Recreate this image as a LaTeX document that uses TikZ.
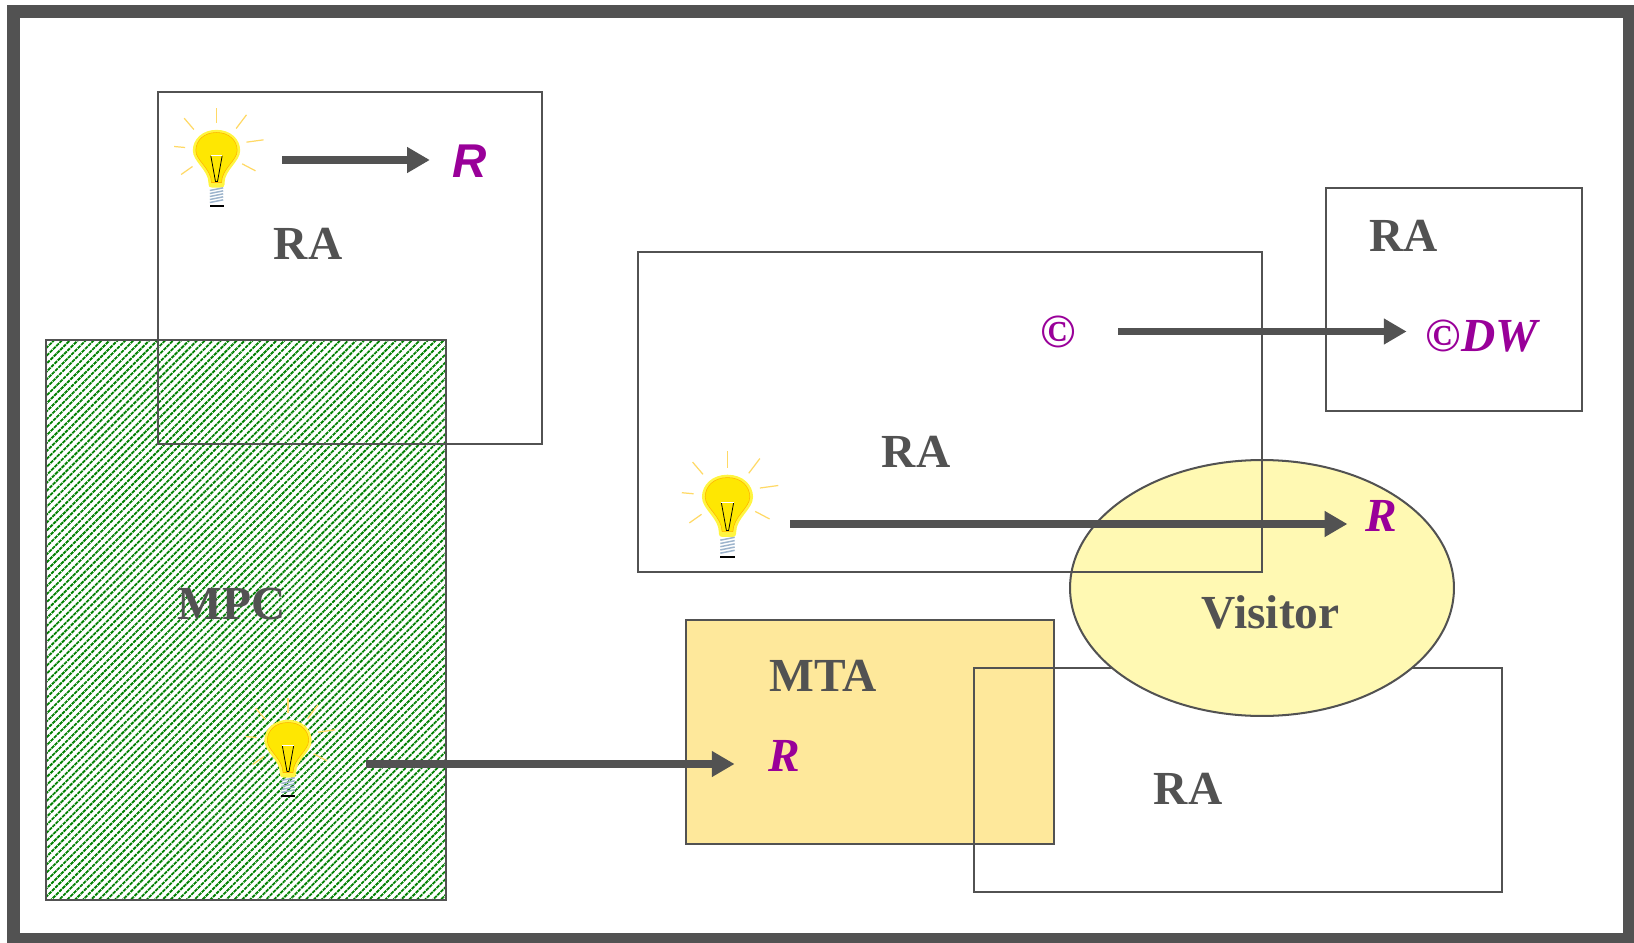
\documentclass[tikz,border=0pt]{standalone}
\usepackage{fontspec}
\setmainfont{Liberation Serif}
\newfontfamily\rsans{Liberation Sans}
\usetikzlibrary{arrows.meta,patterns.meta,shapes.geometric}
\definecolor{inkgray}{HTML}{525252}
\definecolor{markpurple}{HTML}{990099}
\definecolor{mtafill}{HTML}{FEE89B}
\definecolor{visitorfill}{HTML}{FFF9B3}
\definecolor{hatchgreen}{HTML}{008000}
\definecolor{rayyellow}{HTML}{FFD966}
\definecolor{screwblue}{HTML}{9DB4CC}
\tikzset{
    boxline/.style={draw=inkgray, line width=1.15pt, inner sep=0pt},
    agent/.style={anchor=base west, inner sep=0pt, text=inkgray, font=\fontsize{27}{27}\selectfont\bfseries},
    purplemark/.style={anchor=base west, inner sep=0pt, text=markpurple, font=\fontsize{27}{27}\selectfont\bfseries\itshape},
    flow/.style={draw=inkgray, line width=4.5pt, -{Triangle[length=13pt,width=14pt]}},
    lightbulb/.pic={
        \foreach \xa/\ya/\xb/\yb in {0/-145/0/-100, 90/-125/59/-84, 141/-50/90/-43, 117/43/77/22, -72/30/-106/54, -94/-27/-127/-30, -68/-81/-97/-115}
        \draw[rayyellow, line width=0.7pt] (\xa,\ya) -- (\xb,\yb);
        \fill[yellow!75!white] (0,-80) .. controls (42,-80) and (71,-52) .. (71,-18) .. controls (71,16) and (24,40) .. (24,80) -- (24,84) .. controls (24,90) and (20,93) .. (14,93) -- (-14,93) .. controls (-20,93) and (-24,90) .. (-24,84) -- (-24,80) .. controls (-24,40) and (-71,16) .. (-71,-18) .. controls (-71,-52) and (-42,-80) .. (0,-80) -- cycle;
        \draw[draw=orange!60!yellow, fill=yellow!90!orange, line width=0.3pt] (0,-72) .. controls (38,-72) and (62,-48) .. (62,-18) .. controls (62,12) and (16,36) .. (15,78) -- (-15,78) .. controls (-16,36) and (-62,12) .. (-62,-18) .. controls (-62,-48) and (-38,-72) .. (0,-72) -- cycle;
        \draw[black, line width=0.45pt] (-17,-2) -- (-3,75) -- (3,75) -- (17,-2);
        \draw[white, line width=0.4pt] (-17,-2) -- (17,-2);
        \foreach \y in {98,107,116,125,134}
        \draw[screwblue, line width=0.85pt] (-20,\y+4) -- (20,\y-4);
        \fill[black] (-21,145) rectangle (21,152);
    }
}
\begin{document}
\begin{tikzpicture}[x=0.02cm, y=-0.02cm]
    \useasboundingbox (0,0) rectangle (1634,943);
    \node[draw=inkgray, line width=7.4pt, minimum width=32.32cm, minimum height=18.56cm] (frame) at (821.5,475.5) {};

    \node[boxline, pattern={Lines[angle=45,distance=3.2pt,line width=1.05pt]}, pattern color=hatchgreen, minimum width=8cm, minimum height=11.2cm] (mpc) at (246,620) {};
    \node[boxline, pattern={Lines[angle=-45,distance=2.6pt,line width=0.35pt]}, pattern color=white, minimum width=8cm, minimum height=11.2cm] (mpcdots) at (246,620) {};
    \node[boxline, minimum width=7.68cm, minimum height=7.04cm] (raA) at (350,268) {};
    \node[boxline, fill=mtafill, minimum width=7.36cm, minimum height=4.48cm] (mta) at (870,732) {};
    \node[boxline, minimum width=10.56cm, minimum height=4.48cm] (raD) at (1238,780) {};
    \node[boxline, ellipse, fill=visitorfill, minimum width=7.68cm, minimum height=5.12cm] (visitor) at (1262,588) {};
    \node[boxline, minimum width=12.48cm, minimum height=6.4cm] (raB) at (950,412) {};
    \node[boxline, minimum width=5.13cm, minimum height=4.48cm] (raC) at (1454,299.5) {};

    \pic[scale=1/3] (bulbA) at (216.5,156.5) {lightbulb};
    \pic[scale=0.36] (bulbB) at (727.5,503.5) {lightbulb};
    \pic[scale=1/3] (bulbC) at (288,746.5) {lightbulb};

    \node[agent] (labA) at (273.5,259) {RA};
    \node[agent] (labB) at (881.6,467.5) {RA};
    \node[agent] (labC) at (1369,251.5) {RA};
    \node[agent] (labD) at (1153.6,804) {RA};
    \node[agent] (labmpc) at (177,619) {MPC};
    \node[agent] (labmta) at (769,691.5) {MTA};
    \node[agent] (labvis) at (1201.5,628) {Visitor};

    \node[purplemark, font=\rsans\fontsize{27}{27}\selectfont\bfseries\itshape] (rA) at (452,177) {R};
    \node[purplemark, font=\fontsize{27}{27}\selectfont\bfseries] (copyA) at (1040.5,347) {©};
    \node[purplemark] (copyB) at (1425.6,351) {{\upshape ©}DW};
    \node[purplemark] (rB) at (1365,531.5) {R};
    \node[purplemark] (rC) at (768.5,771) {R};

    \coordinate (tailA) at (282,160);
    \coordinate (tailB) at (1118,331.5);
    \coordinate (tailC) at (790,524);
    \coordinate (tailD) at (366,764);
    \draw[flow, shorten >=12.6pt] (tailA) -- (tailA -| rA.west);
    \draw[flow, shorten >=10.8pt] (tailB) -- (tailB -| copyB.west);
    \draw[flow, shorten >=10pt] (tailC) -- (tailC -| rB.west);
    \draw[flow, shorten >=19.3pt] (tailD) -- (tailD -| rC.west);
\end{tikzpicture}
\end{document}
